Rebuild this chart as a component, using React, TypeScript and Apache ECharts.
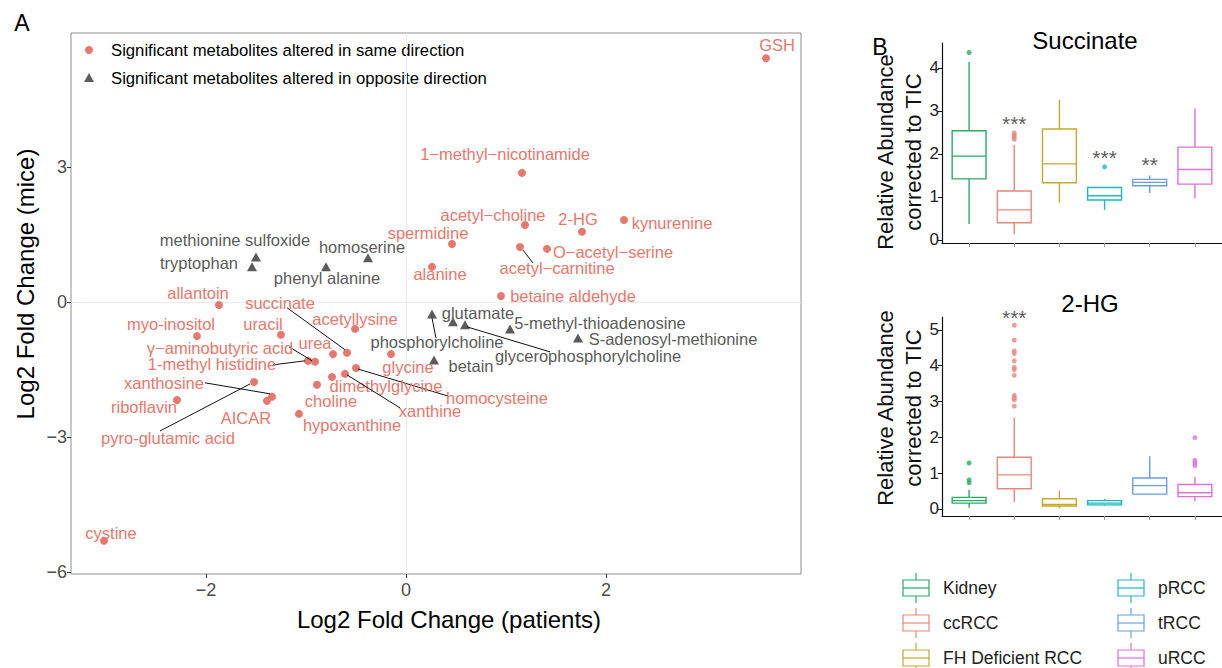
import React, { useEffect, useRef } from 'react';
import * as echarts from 'echarts';

const FONT = '"Liberation Sans", Arial, Helvetica, sans-serif';

// ---------- Panel A data ----------
const sameNames = [
  'GSH', '1−methyl−nicotinamide', 'acetyl−choline', '2-HG', 'kynurenine', 'spermidine',
  'acetyl−carnitine', 'O−acetyl−serine', 'alanine', 'betaine aldehyde', 'allantoin',
  'acetyllysine', 'myo-inositol', 'uracil', 'succinate', 'urea', 'glycine',
  'γ−aminobutyric acid', '1-methyl histidine', 'homocysteine', 'dimethylglycine',
  'xanthine', 'choline', 'pyro-glutamic acid', 'xanthosine', 'AICAR', 'riboflavin',
  'hypoxanthine', 'cystine',
];
const sameX = [3.60, 1.16, 1.19, 1.76, 2.18, 0.46, 1.14, 1.41, 0.26, 0.95, -1.87, -0.51, -2.09, -1.25, -0.59, -0.73, -0.15, -0.91, -0.98, -0.50, -0.74, -0.61, -0.89, -1.52, -1.34, -1.39, -2.29, -1.07, -3.02];
const sameY = [5.42, 2.87, 1.71, 1.56, 1.82, 1.29, 1.22, 1.18, 0.78, 0.13, -0.07, -0.60, -0.76, -0.73, -1.13, -1.16, -1.16, -1.33, -1.31, -1.47, -1.67, -1.60, -1.84, -1.78, -2.11, -2.20, -2.18, -2.49, -5.31];

const oppNames = [
  'methionine sulfoxide', 'tryptophan', 'phenyl alanine', 'homoserine', 'phosphorylcholine',
  'glutamate', 'glycerophosphorylcholine', '5-methyl-thioadenosine', 'S-adenosyl-methionine', 'betain',
];
const oppX = [-1.50, -1.54, -0.80, -0.38, 0.26, 0.47, 0.59, 1.04, 1.72, 0.28];
const oppY = [1.00, 0.78, 0.78, 0.98, -0.27, -0.44, -0.51, -0.60, -0.80, -1.29];

const xTicksA = [-2, 0, 2];
const yTicksA = [-6, -3, 0, 3];
const legendA = ['Significant metabolites altered in same direction', 'Significant metabolites altered in opposite direction'];

// label placement (pixel offsets from the point) and leader lines — styling only
const labelPlace: Record<string, { d: [number, number]; line?: [number, number, number, number] }> = {
  'GSH': { d: [11, -13] },
  '1−methyl−nicotinamide': { d: [-17, -19] },
  'acetyl−choline': { d: [-32, -10] },
  '2-HG': { d: [-4, -13] },
  'kynurenine': { d: [48, 3] },
  'spermidine': { d: [-24, -11] },
  'acetyl−carnitine': { d: [37, 21], line: [3, 3, 13, 16] },
  'O−acetyl−serine': { d: [66, 3] },
  'alanine': { d: [8, 7] },
  'betaine aldehyde': { d: [72, 0] },
  'allantoin': { d: [-21, -12] },
  'acetyllysine': { d: [0, -10] },
  'myo-inositol': { d: [-26, -12] },
  'uracil': { d: [-18, -11] },
  'succinate': { d: [-67, -50], line: [-60, -45, -2, -3] },
  'urea': { d: [-18, -11] },
  'glycine': { d: [17, 13] },
  'γ−aminobutyric acid': { d: [-95, -14], line: [-26, -15, -3, -1] },
  '1-methyl histidine': { d: [-96, 3], line: [-35, 4, -3, 0] },
  'homocysteine': { d: [141, 30], line: [2, 1, 92, 28] },
  'dimethylglycine': { d: [54, 9] },
  'xanthine': { d: [85, 37], line: [2, 1, 55, 34] },
  'choline': { d: [14, 16] },
  'pyro-glutamic acid': { d: [-86, 56], line: [-94, 49, -4, 2] },
  'xanthosine': { d: [-108, -14], line: [-67, -14, -2, -3] },
  'AICAR': { d: [-21, 17] },
  'riboflavin': { d: [-33, 7] },
  'hypoxanthine': { d: [53, 11] },
  'cystine': { d: [7, -8] },
  'methionine sulfoxide': { d: [-21, -17] },
  'tryptophan': { d: [-53, -4] },
  'phenyl alanine': { d: [1, 11] },
  'homoserine': { d: [-6, -11] },
  'phosphorylcholine': { d: [5, 28], line: [0, 4, 4, 24] },
  'glutamate': { d: [25, -9] },
  'glycerophosphorylcholine': { d: [123, 31], line: [2, 2, 85, 27] },
  '5-methyl-thioadenosine': { d: [90, -6] },
  'S-adenosyl-methionine': { d: [95, 1] },
  'betain': { d: [37, 6] },
};

// ---------- Panel B data ----------
const groups = ['Kidney', 'ccRCC', 'FH Deficient RCC', 'pRCC', 'tRCC', 'uRCC'];
const groupColors = ['#2BAA68', '#E8877C', '#C4AA2C', '#1EB9BD', '#6D9FD6', '#DE72D8'];

// [min, Q1, median, Q3, max]
const succinateBoxes = [
  [0.37, 1.42, 1.95, 2.54, 4.14],
  [0.14, 0.40, 0.70, 1.14, 2.21],
  [0.87, 1.33, 1.77, 2.58, 3.26],
  [0.70, 0.93, 1.03, 1.22, 1.22],
  [1.09, 1.26, 1.34, 1.41, 1.50],
  [0.97, 1.30, 1.64, 2.16, 3.06],
];
const succinateOutliers = [[4.36], [2.49, 2.44, 2.39, 2.34], [], [1.70], [], []];
const succinateStars = ['', '***', '', '***', '**', ''];
const succinateStarY = [0, 2.71, 0, 1.92, 1.75, 0];
const succinateTicks = [0, 1, 2, 3, 4];

const hgBoxes = [
  [0.03, 0.16, 0.23, 0.32, 0.53],
  [0.19, 0.56, 0.95, 1.44, 2.55],
  [0.02, 0.08, 0.12, 0.28, 0.51],
  [0.08, 0.11, 0.16, 0.23, 0.28],
  [0.40, 0.41, 0.65, 0.86, 1.47],
  [0.21, 0.34, 0.45, 0.68, 0.89],
];
const hgOutliers = [
  [1.28, 0.81, 0.73],
  [5.13, 4.71, 4.41, 4.34, 4.13, 3.95, 3.89, 3.73, 3.17, 3.10, 3.05, 2.87],
  [], [], [],
  [1.99, 1.35, 1.28, 1.21],
];
const hgStars = ['', '***', '', '', '', ''];
const hgStarY = [0, 5.35, 0, 0, 0, 0];
const hgTicks = [0, 1, 2, 3, 4, 5];
const catPos = [1, 2, 3, 4, 5, 6];

const RED = '#E8776C';
const GRAY = '#5B5B5B';

function minusFmt(v: number) {
  return v < 0 ? '−' + Math.abs(v) : String(v);
}

function buildOption() {
  const sameData = sameX.map((x, i) => [x, sameY[i]]);
  const oppData = oppX.map((x, i) => [x, oppY[i]]);
  const labelData = [
    ...sameNames.map((n, i) => [sameX[i], sameY[i], i, 0]),
    ...oppNames.map((n, i) => [oppX[i], oppY[i], i, 1]),
  ];

  const boxSeries = (boxes: number[][], xi: number) => ({
    type: 'custom',
    xAxisIndex: xi,
    yAxisIndex: xi,
    clip: false,
    data: boxes.map((b, i) => [catPos[i], ...b, i]),
    encode: { x: 0, y: [1, 2, 3, 4, 5] },
    renderItem: (params: any, api: any) => {
      const cx = api.value(0);
      const ci = api.value(6);
      const col = groupColors[ci];
      const w = api.size([0.75, 0])[0];
      const pMin = api.coord([cx, api.value(1)]);
      const pQ1 = api.coord([cx, api.value(2)]);
      const pMed = api.coord([cx, api.value(3)]);
      const pQ3 = api.coord([cx, api.value(4)]);
      const pMax = api.coord([cx, api.value(5)]);
      const x = pQ1[0];
      const ls = { stroke: col, lineWidth: 1.4, fill: 'none' };
      return {
        type: 'group',
        children: [
          { type: 'line', shape: { x1: x, y1: pMax[1], x2: x, y2: pQ3[1] }, style: ls },
          { type: 'line', shape: { x1: x, y1: pQ1[1], x2: x, y2: pMin[1] }, style: ls },
          { type: 'rect', shape: { x: x - w / 2, y: pQ3[1], width: w, height: pQ1[1] - pQ3[1] }, style: { stroke: col, lineWidth: 1.4, fill: '#fff' } },
          { type: 'line', shape: { x1: x - w / 2, y1: pMed[1], x2: x + w / 2, y2: pMed[1] }, style: ls },
        ],
      };
    },
  });

  const outlierSeries = (outs: number[][], xi: number) => ({
    type: 'scatter',
    xAxisIndex: xi,
    yAxisIndex: xi,
    symbol: 'circle',
    symbolSize: 5,
    clip: false,
    data: outs.flatMap((arr, i) => arr.map((v) => ({ value: [catPos[i], v], itemStyle: { color: groupColors[i] } }))),
  });

  const starSeries = (stars: string[], ys: number[], xi: number) => ({
    type: 'scatter',
    xAxisIndex: xi,
    yAxisIndex: xi,
    symbolSize: 1,
    clip: false,
    itemStyle: { color: 'rgba(0,0,0,0)' },
    data: stars.map((s, i) => ({ value: [catPos[i], ys[i]], name: s })).filter((d) => d.name !== ''),
    label: {
      show: true,
      position: 'inside',
      formatter: (p: any) => p.name,
      fontSize: 21,
      color: '#333',
      fontFamily: FONT,
    },
  });

  const bYAxis = (gi: number, min: number, max: number, ticks: number[]) => ({
    gridIndex: gi,
    type: 'value',
    min,
    max,
    splitLine: { show: false },
    axisLine: { show: true, onZero: false, lineStyle: { color: '#111', width: 1.2 } },
    axisTick: { show: true, customValues: ticks, length: 4, lineStyle: { color: '#111' } },
    axisLabel: { customValues: ticks, fontSize: 17, color: '#222', margin: 3, fontFamily: FONT },
  });
  const bXAxis = (gi: number) => ({
    gridIndex: gi,
    type: 'value',
    min: 0.4,
    max: 6.6,
    splitLine: { show: false },
    axisLine: { show: true, onZero: false, lineStyle: { color: '#111', width: 1.2 } },
    axisTick: { show: true, customValues: catPos, length: 4, lineStyle: { color: '#999' } },
    axisLabel: { show: false },
  });

  const legendB: any[] = [];
  groups.forEach((g, i) => {
    const col = i < 3 ? 0 : 1;
    const row = i % 3;
    const cx = col === 0 ? 916 : 1131;
    const cy = 588 + row * 35;
    const c = groupColors[i];
    legendB.push(
      { type: 'line', shape: { x1: cx, y1: cy - 15, x2: cx, y2: cy - 8 }, style: { stroke: c, lineWidth: 1.2 } },
      { type: 'line', shape: { x1: cx, y1: cy + 8, x2: cx, y2: cy + 15 }, style: { stroke: c, lineWidth: 1.2 } },
      { type: 'rect', shape: { x: cx - 13, y: cy - 8, width: 26, height: 16 }, style: { stroke: c, lineWidth: 1.2, fill: '#fff' } },
      { type: 'line', shape: { x1: cx - 13, y1: cy, x2: cx + 13, y2: cy }, style: { stroke: c, lineWidth: 1.2 } },
      { type: 'text', x: col === 0 ? 943 : 1158, y: cy, style: { text: g, fontSize: 17.5, fontFamily: FONT, fill: '#222', align: 'left', verticalAlign: 'middle' } },
    );
  });

  return {
    animation: false,
    backgroundColor: '#fff',
    textStyle: { fontFamily: FONT },
    grid: [
      { left: 71, top: 33, width: 730, height: 541, show: true, borderColor: '#8f8f8f', borderWidth: 1, backgroundColor: 'transparent' },
      { left: 942, top: 43, width: 288, height: 200 },
      { left: 942, top: 317, width: 288, height: 199 },
    ],
    xAxis: [
      {
        gridIndex: 0,
        type: 'value',
        min: -3.35,
        max: 3.95,
        splitLine: { show: false },
        axisLine: { show: false, onZero: false },
        axisTick: { show: true, customValues: xTicksA, length: 4, lineStyle: { color: '#333' } },
        axisLabel: { customValues: xTicksA, fontSize: 18, color: '#4d4d4d', margin: 7, fontFamily: FONT, formatter: minusFmt },
      },
      bXAxis(1),
      bXAxis(2),
    ],
    yAxis: [
      {
        gridIndex: 0,
        type: 'value',
        min: -6.05,
        max: 5.98,
        splitLine: { show: false },
        axisLine: { show: false, onZero: false },
        axisTick: { show: true, customValues: yTicksA, length: 4, lineStyle: { color: '#333' } },
        axisLabel: { customValues: yTicksA, fontSize: 18, color: '#4d4d4d', margin: 4, fontFamily: FONT, formatter: minusFmt },
      },
      bYAxis(1, -0.07, 4.58, succinateTicks),
      bYAxis(2, -0.2, 5.36, hgTicks),
    ],
    series: [
      {
        name: legendA[0],
        type: 'scatter',
        xAxisIndex: 0,
        yAxisIndex: 0,
        symbol: 'circle',
        symbolSize: 8,
        itemStyle: { color: RED, opacity: 1 },
        data: sameData,
        z: 3,
        markLine: {
          silent: true,
          symbol: 'none',
          label: { show: false },
          lineStyle: { color: '#ececec', width: 1, type: 'solid' },
          data: [{ xAxis: 0 }, { yAxis: 0 }],
          z: 1,
        },
      },
      {
        name: legendA[1],
        type: 'scatter',
        xAxisIndex: 0,
        yAxisIndex: 0,
        symbol: 'triangle',
        symbolSize: [10, 9],
        itemStyle: { color: GRAY, opacity: 1 },
        data: oppData,
        z: 3,
      },
      {
        type: 'custom',
        xAxisIndex: 0,
        yAxisIndex: 0,
        clip: false,
        z: 4,
        data: labelData,
        encode: { x: 0, y: 1 },
        renderItem: (params: any, api: any) => {
          const idx = api.value(2);
          const grp = api.value(3);
          const name = grp === 0 ? sameNames[idx] : oppNames[idx];
          const pl = labelPlace[name] || { d: [0, -10] };
          const p = api.coord([api.value(0), api.value(1)]);
          const children: any[] = [];
          if (pl.line) {
            children.push({
              type: 'line',
              shape: { x1: p[0] + pl.line[0], y1: p[1] + pl.line[1], x2: p[0] + pl.line[2], y2: p[1] + pl.line[3] },
              style: { stroke: '#111', lineWidth: 1 },
            });
          }
          children.push({
            type: 'text',
            x: p[0] + pl.d[0],
            y: p[1] + pl.d[1],
            style: {
              text: name,
              fill: grp === 0 ? RED : GRAY,
              fontSize: 16.5,
              fontFamily: FONT,
              align: 'center',
              verticalAlign: 'middle',
            },
          });
          return { type: 'group', children };
        },
      },
      boxSeries(succinateBoxes, 1),
      outlierSeries(succinateOutliers, 1),
      starSeries(succinateStars, succinateStarY, 1),
      boxSeries(hgBoxes, 2),
      outlierSeries(hgOutliers, 2),
      starSeries(hgStars, hgStarY, 2),
    ],
    graphic: [
      { type: 'text', x: 22, y: 23, style: { text: 'A', fontSize: 23, fontFamily: FONT, fill: '#000', align: 'center', verticalAlign: 'middle' } },
      { type: 'text', x: 880, y: 47, style: { text: 'B', fontSize: 23, fontFamily: FONT, fill: '#000', align: 'center', verticalAlign: 'middle' } },
      { type: 'text', x: 449, y: 619, style: { text: 'Log2 Fold Change (patients)', fontSize: 24, fontFamily: FONT, fill: '#000', align: 'center', verticalAlign: 'middle' } },
      { type: 'text', x: 25, y: 284, rotation: Math.PI / 2, style: { text: 'Log2 Fold Change (mice)', fontSize: 24, fontFamily: FONT, fill: '#000', align: 'center', verticalAlign: 'middle' } },
      { type: 'circle', shape: { cx: 89, cy: 50, r: 4 }, style: { fill: RED } },
      { type: 'polygon', shape: { points: [[89, 73], [84, 82], [94, 82]] }, style: { fill: GRAY } },
      { type: 'text', x: 111, y: 50, style: { text: legendA[0], fontSize: 16.7, fontFamily: FONT, fill: '#000', align: 'left', verticalAlign: 'middle' } },
      { type: 'text', x: 111, y: 78, style: { text: legendA[1], fontSize: 16.7, fontFamily: FONT, fill: '#000', align: 'left', verticalAlign: 'middle' } },
      { type: 'text', x: 1085, y: 40, style: { text: 'Succinate', fontSize: 24, fontFamily: FONT, fill: '#000', align: 'center', verticalAlign: 'middle' } },
      { type: 'text', x: 1090, y: 303, style: { text: '2-HG', fontSize: 24, fontFamily: FONT, fill: '#000', align: 'center', verticalAlign: 'middle' } },
      { type: 'text', x: 899, y: 152, rotation: Math.PI / 2, style: { text: 'Relative Abundance\ncorrected to TIC', fontSize: 22, lineHeight: 28, fontFamily: FONT, fill: '#111', align: 'center', verticalAlign: 'middle' } },
      { type: 'text', x: 899, y: 408, rotation: Math.PI / 2, style: { text: 'Relative Abundance\ncorrected to TIC', fontSize: 22, lineHeight: 28, fontFamily: FONT, fill: '#111', align: 'center', verticalAlign: 'middle' } },
      ...legendB,
    ],
  };
}

export default function App() {
  const ref = useRef<HTMLDivElement>(null);
  useEffect(() => {
    document.body.style.margin = '0';
    const chart = echarts.init(ref.current as HTMLDivElement, null, { renderer: 'svg' });
    chart.setOption(buildOption() as any);
    return () => chart.dispose();
  }, []);
  return <div ref={ref} style={{ width: 1222, height: 668 }} />;
}
